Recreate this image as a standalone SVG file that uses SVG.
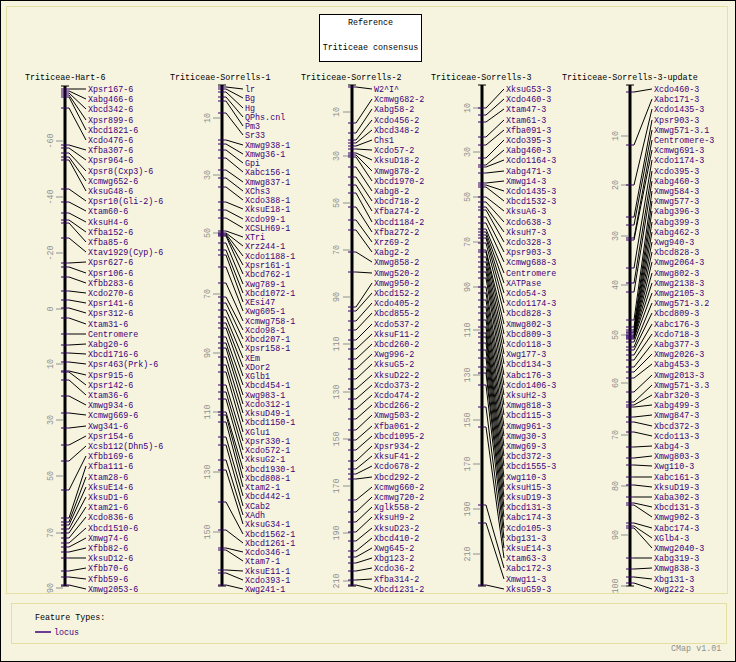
<svg xmlns="http://www.w3.org/2000/svg" width="736" height="662" viewBox="0 0 736 662">
<style>
text{font-family:"Liberation Mono","DejaVu Sans Mono",monospace;font-size:8.4px}
.l{fill:#3c0078}
.h{fill:#000}
.s{fill:#909090;font-size:8px}
.ax{stroke:#000;stroke-width:3}
.cap{stroke:#000;stroke-width:1}
.ft{stroke:#330066;stroke-width:1;fill:none}
.st{stroke:#909090;stroke-width:1;fill:none}
.ld{stroke:#000;stroke-width:1;fill:none}
.fr{fill:none;stroke:#e4dfa2;stroke-width:1}
</style>
<rect x="0" y="0" width="736" height="662" fill="#f6f4df"/>
<rect x="0.5" y="0.5" width="735" height="661" fill="none" stroke="#000"/>
<rect class="fr" x="6.5" y="6.5" width="721" height="587"/>
<g id="title">
<rect x="319.5" y="14.5" width="102" height="47" fill="#fff" stroke="#000"/>
<text class="h" x="370.5" y="25" text-anchor="middle">Reference</text>
<text class="h" x="370.5" y="50" text-anchor="middle">Triticeae consensus</text>
</g>

<g id="connectors">
<path class="ld" d="M69 89L86 89M69 91L86 99M69 93L86 109M69 95L86 120M69 97L86 130M69 108L86 140M69 145L86 150M69 148L86 160M69 153L86 171M69 157L86 181M69 160L86 191M69 189L86 201M69 202L86 211M69 213L86 222M69 220L86 232M69 223L86 242M69 238L86 252M69 263L86 262M69 267L86 273M69 277L86 283M69 291L86 293M69 300L86 303M69 308L86 313M69 318L86 324M69 334L86 334M69 345L86 344M69 353L86 354M69 362L86 364M69 371L86 375M69 372L86 385M69 380L86 395M69 396L86 405M69 413L86 415M69 428L86 426M69 445L86 436M69 461L86 446M69 490L86 456M69 518L86 466M69 522L86 477M69 525L86 487M69 529L86 497M69 533L86 507M69 538L86 517M69 543L86 528M69 547L86 538M69 552L86 548M69 558L86 558M69 571L86 568M69 577L86 579M69 585L86 589"/>
<path class="ld" d="M226 87L243 89M226 89L243 98M226 92L243 108M226 97L243 117M226 101L243 126M226 113L243 135M226 140L243 145M226 144L243 154M226 150L243 163M226 158L243 172M226 170L243 182M226 178L243 191M226 187L243 200M226 202L243 209M226 210L243 219M226 218L243 228M226 231L243 237M226 233L243 246M226 234L243 256M226 235L243 265M226 236L243 274M226 243L243 284M226 250L243 293M226 255L243 302M226 267L243 311M226 283L243 321M226 297L243 330M226 303L243 339M226 310L243 348M226 317L243 358M226 323L243 367M226 328L243 376M226 337L243 385M226 343L243 395M226 348L243 404M226 357L243 413M226 365L243 422M226 372L243 432M226 385L243 441M226 392L243 450M226 399L243 459M226 412L243 469M226 415L243 478M226 422L243 487M226 437L243 496M226 445L243 506M226 460L243 515M226 470L243 524M226 502L243 534M226 530L243 543M226 548L243 552M226 550L243 561M226 570L243 571M226 573L243 580M226 585L243 589"/>
<path class="ld" d="M356 87L372 89M356 123L372 99M356 133L372 109M356 140L372 120M356 143L372 130M356 146L372 140M356 149L372 150M356 153L372 160M356 155L372 171M356 157L372 181M356 167L372 191M356 177L372 201M356 185L372 211M356 193L372 222M356 207L372 232M356 220L372 242M356 230L372 252M356 252L372 262M356 272L372 273M356 307L372 283M356 311L372 293M356 321L372 303M356 330L372 313M356 340L372 324M356 349L372 334M356 359L372 344M356 369L372 354M356 379L372 364M356 389L372 375M356 399L372 385M356 409L372 395M356 419L372 405M356 430L372 415M356 440L372 426M356 450L372 436M356 461L372 446M356 469L372 456M356 474L372 466M356 479L372 477M356 500L372 487M356 512L372 497M356 522L372 507M356 532L372 517M356 541L372 528M356 551L372 538M356 557L372 548M356 563L372 558M356 571L372 568M356 580L372 579M356 585L372 589"/>
<path class="ld" d="M486 108L504 89M486 115L504 99M486 122L504 109M486 137L504 120M486 145L504 130M486 158L504 140M486 165L504 150M486 167L504 160M486 173L504 171M486 183L504 181M486 185L504 191M486 187L504 201M486 197L504 211M486 202L504 222M486 207L504 232M486 210L504 242M486 217L504 252M486 223L504 262M486 229L504 273M486 232L504 283M486 235L504 293M486 238L504 303M486 243L504 313M486 250L504 324M486 252L504 334M486 257L504 344M486 262L504 354M486 267L504 364M486 272L504 375M486 278L504 385M486 287L504 395M486 293L504 405M486 300L504 415M486 307L504 426M486 313L504 436M486 320L504 446M486 327L504 456M486 333L504 466M486 337L504 477M486 343L504 487M486 350L504 497M486 358L504 507M486 367L504 517M486 373L504 528M486 385L504 538M486 407L504 548M486 427L504 558M486 505L504 568M486 523L504 579M486 585L504 589"/>
<path class="ld" d="M634 92L652 89M634 145L652 99M634 185L652 109M634 217L652 120M634 225L652 130M634 238L652 140M634 240L652 150M634 268L652 160M634 283L652 171M634 292L652 181M634 320L652 191M634 327L652 201M634 330L652 211M634 332L652 222M634 333L652 232M634 335L652 242M634 336L652 252M634 337L652 262M634 338L652 273M634 339L652 283M634 342L652 293M634 347L652 303M634 350L652 313M634 355L652 324M634 360L652 334M634 367L652 344M634 372L652 354M634 378L652 364M634 392L652 375M634 402L652 385M634 405L652 395M634 407L652 405M634 417L652 415M634 422L652 426M634 432L652 436M634 447L652 446M634 458L652 456M634 465L652 466M634 477L652 477M634 485L652 487M634 497L652 497M634 503L652 507M634 505L652 517M634 523L652 528M634 526L652 538M634 528L652 548M634 558L652 558M634 569L652 568M634 577L652 579M634 583L652 589"/>
</g>

<g id="map-hart6">
<text class="h" x="25" y="80">Triticeae-Hart-6</text>
<line class="ax" x1="65" y1="86" x2="65" y2="586"/>
<path class="cap" d="M61 86h8M61 586h8"/>
<path class="st" d="M56 141h7M56 197h7M56 253h7M56 309h7M56 364h7M56 420h7M56 476h7M56 533h7M56 588h7"/>
<g class="s" text-anchor="middle">
<text transform="translate(50,141) rotate(-90)" y="3">-60</text>
<text transform="translate(50,197) rotate(-90)" y="3">-40</text>
<text transform="translate(50,253) rotate(-90)" y="3">-20</text>
<text transform="translate(50,309) rotate(-90)" y="3">0</text>
<text transform="translate(50,364) rotate(-90)" y="3">10</text>
<text transform="translate(50,420) rotate(-90)" y="3">30</text>
<text transform="translate(50,476) rotate(-90)" y="3">50</text>
<text transform="translate(50,533) rotate(-90)" y="3">70</text>
<text transform="translate(50,588) rotate(-90)" y="3">90</text>
</g>
<path class="ft" d="M61 89h8M61 91h8M61 93h8M61 95h8M61 97h8M61 108h8M61 145h8M61 148h8M61 153h8M61 157h8M61 160h8M61 189h8M61 202h8M61 213h8M61 220h8M61 223h8M61 238h8M61 263h8M61 267h8M61 277h8M61 291h8M61 300h8M61 308h8M61 318h8M61 334h8M61 345h8M61 353h8M61 362h8M61 371h8M61 372h8M61 380h8M61 396h8M61 413h8M61 428h8M61 445h8M61 461h8M61 490h8M61 518h8M61 522h8M61 525h8M61 529h8M61 533h8M61 538h8M61 543h8M61 547h8M61 552h8M61 558h8M61 571h8M61 577h8M61 585h8"/>
<g class="l">
<text x="88" y="92">Xpsr167-6</text>
<text x="88" y="102.2">Xabg466-6</text>
<text x="88" y="112.4">Xbcd342-6</text>
<text x="88" y="122.6">Xpsr899-6</text>
<text x="88" y="132.8">Xbcd1821-6</text>
<text x="88" y="143">Xcdo476-6</text>
<text x="88" y="153.2">Xfba307-6</text>
<text x="88" y="163.4">Xpsr964-6</text>
<text x="88" y="173.6">Xpsr8(Cxp3)-6</text>
<text x="88" y="183.8">Xcmwg652-6</text>
<text x="88" y="194">XksuG48-6</text>
<text x="88" y="204.2">Xpsr10(Gli-2)-6</text>
<text x="88" y="214.4">Xtam60-6</text>
<text x="88" y="224.6">XksuH4-6</text>
<text x="88" y="234.8">Xfba152-6</text>
<text x="88" y="245">Xfba85-6</text>
<text x="88" y="255.2">Xtav1929(Cyp)-6</text>
<text x="88" y="265.4">Xpsr627-6</text>
<text x="88" y="275.6">Xpsr106-6</text>
<text x="88" y="285.8">Xfbb283-6</text>
<text x="88" y="296">Xcdo270-6</text>
<text x="88" y="306.2">Xpsr141-6</text>
<text x="88" y="316.4">Xpsr312-6</text>
<text x="88" y="326.6">Xtam31-6</text>
<text x="88" y="336.8">Centromere</text>
<text x="88" y="347">Xabg20-6</text>
<text x="88" y="357.2">Xbcd1716-6</text>
<text x="88" y="367.4">Xpsr463(Prk)-6</text>
<text x="88" y="377.6">Xpsr915-6</text>
<text x="88" y="387.8">Xpsr142-6</text>
<text x="88" y="398">Xtam36-6</text>
<text x="88" y="408.2">Xmwg934-6</text>
<text x="88" y="418.4">Xcmwg669-6</text>
<text x="88" y="428.6">Xwg341-6</text>
<text x="88" y="438.8">Xpsr154-6</text>
<text x="88" y="449">Xcsb112(Dhn5)-6</text>
<text x="88" y="459.2">Xfbb169-6</text>
<text x="88" y="469.4">Xfba111-6</text>
<text x="88" y="479.6">Xtam28-6</text>
<text x="88" y="489.8">XksuE14-6</text>
<text x="88" y="500">XksuD1-6</text>
<text x="88" y="510.2">Xtam21-6</text>
<text x="88" y="520.4">Xcdo836-6</text>
<text x="88" y="530.6">Xbcd1510-6</text>
<text x="88" y="540.8">Xmwg74-6</text>
<text x="88" y="551">Xfbb82-6</text>
<text x="88" y="561.2">XksuD12-6</text>
<text x="88" y="571.4">Xfbb70-6</text>
<text x="88" y="581.6">Xfbb59-6</text>
<text x="88" y="591.8">Xmwg2053-6</text>
</g>
</g>

<g id="map-sorrells1">
<text class="h" x="170" y="80">Triticeae-Sorrells-1</text>
<line class="ax" x1="222" y1="85" x2="222" y2="586"/>
<path class="cap" d="M218 85h8M218 586h8"/>
<path class="st" d="M213 118h7M213 175h7M213 233h7M213 294h7M213 353h7M213 412h7M213 472h7M213 532h7"/>
<g class="s" text-anchor="middle">
<text transform="translate(207,118) rotate(-90)" y="3">10</text>
<text transform="translate(207,175) rotate(-90)" y="3">30</text>
<text transform="translate(207,233) rotate(-90)" y="3">50</text>
<text transform="translate(207,294) rotate(-90)" y="3">70</text>
<text transform="translate(207,353) rotate(-90)" y="3">90</text>
<text transform="translate(207,412) rotate(-90)" y="3">110</text>
<text transform="translate(207,472) rotate(-90)" y="3">130</text>
<text transform="translate(207,532) rotate(-90)" y="3">150</text>
</g>
<path class="ft" d="M218 87h8M218 89h8M218 92h8M218 97h8M218 101h8M218 113h8M218 140h8M218 144h8M218 150h8M218 158h8M218 170h8M218 178h8M218 187h8M218 202h8M218 210h8M218 218h8M218 231h8M218 233h8M218 234h8M218 235h8M218 236h8M218 243h8M218 250h8M218 255h8M218 267h8M218 283h8M218 297h8M218 303h8M218 310h8M218 317h8M218 323h8M218 328h8M218 337h8M218 343h8M218 348h8M218 357h8M218 365h8M218 372h8M218 385h8M218 392h8M218 399h8M218 412h8M218 415h8M218 422h8M218 437h8M218 445h8M218 460h8M218 470h8M218 502h8M218 530h8M218 548h8M218 550h8M218 570h8M218 573h8M218 585h8"/>
<g class="l">
<text x="245" y="92">lr</text>
<text x="245" y="101.3">Bg</text>
<text x="245" y="110.5">Hg</text>
<text x="245" y="119.8">QPhs.cnl</text>
<text x="245" y="129">Pm3</text>
<text x="245" y="138.3">Sr33</text>
<text x="245" y="147.6">Xmwg938-1</text>
<text x="245" y="156.8">Xmwg36-1</text>
<text x="245" y="166.1">Gpi</text>
<text x="245" y="175.3">Xabc156-1</text>
<text x="245" y="184.6">Xmwg837-1</text>
<text x="245" y="193.9">XChs3</text>
<text x="245" y="203.1">Xcdo388-1</text>
<text x="245" y="212.4">XksuE18-1</text>
<text x="245" y="221.6">Xcdo99-1</text>
<text x="245" y="230.9">XCSLH69-1</text>
<text x="245" y="240.2">XTri</text>
<text x="245" y="249.4">Xrz244-1</text>
<text x="245" y="258.7">Xcdo1188-1</text>
<text x="245" y="267.9">Xpsr161-1</text>
<text x="245" y="277.2">Xbcd762-1</text>
<text x="245" y="286.5">Xwg789-1</text>
<text x="245" y="295.7">Xbcd1072-1</text>
<text x="245" y="305">XEsi47</text>
<text x="245" y="314.2">Xwg605-1</text>
<text x="245" y="323.5">Xcmwg758-1</text>
<text x="245" y="332.8">Xcdo98-1</text>
<text x="245" y="342">Xbcd207-1</text>
<text x="245" y="351.3">Xpsr158-1</text>
<text x="245" y="360.5">XEm</text>
<text x="245" y="369.8">XDor2</text>
<text x="245" y="379.1">XGlb1</text>
<text x="245" y="388.3">Xbcd454-1</text>
<text x="245" y="397.6">Xwg983-1</text>
<text x="245" y="406.8">Xcdo312-1</text>
<text x="245" y="416.1">XksuD49-1</text>
<text x="245" y="425.4">Xbcd1150-1</text>
<text x="245" y="434.6">XGlu1</text>
<text x="245" y="443.9">Xpsr330-1</text>
<text x="245" y="453.1">Xcdo572-1</text>
<text x="245" y="462.4">XksuG2-1</text>
<text x="245" y="471.7">Xbcd1930-1</text>
<text x="245" y="480.9">Xbcd808-1</text>
<text x="245" y="490.2">Xtam2-1</text>
<text x="245" y="499.4">Xbcd442-1</text>
<text x="245" y="508.7">XCab2</text>
<text x="245" y="518">XAdh</text>
<text x="245" y="527.2">XksuG34-1</text>
<text x="245" y="536.5">Xbcd1562-1</text>
<text x="245" y="545.7">Xbcd1261-1</text>
<text x="245" y="555">Xcdo346-1</text>
<text x="245" y="564.3">Xtam7-1</text>
<text x="245" y="573.5">XksuE11-1</text>
<text x="245" y="582.8">Xcdo393-1</text>
<text x="245" y="592">Xwg241-1</text>
</g>
</g>

<g id="map-sorrells2">
<text class="h" x="301" y="80">Triticeae-Sorrells-2</text>
<line class="ax" x1="352" y1="85" x2="352" y2="586"/>
<path class="cap" d="M348 85h8M348 586h8"/>
<path class="st" d="M343 112h7M343 156h7M343 203h7M343 250h7M343 297h7M343 344h7M343 392h7M343 439h7M343 486h7M343 533h7M343 581h7"/>
<g class="s" text-anchor="middle">
<text transform="translate(336,112) rotate(-90)" y="3">10</text>
<text transform="translate(336,156) rotate(-90)" y="3">30</text>
<text transform="translate(336,203) rotate(-90)" y="3">50</text>
<text transform="translate(336,250) rotate(-90)" y="3">70</text>
<text transform="translate(336,297) rotate(-90)" y="3">90</text>
<text transform="translate(336,344) rotate(-90)" y="3">110</text>
<text transform="translate(336,392) rotate(-90)" y="3">130</text>
<text transform="translate(336,439) rotate(-90)" y="3">150</text>
<text transform="translate(336,486) rotate(-90)" y="3">170</text>
<text transform="translate(336,533) rotate(-90)" y="3">190</text>
<text transform="translate(336,581) rotate(-90)" y="3">210</text>
</g>
<path class="ft" d="M348 87h8M348 123h8M348 133h8M348 140h8M348 143h8M348 146h8M348 149h8M348 153h8M348 155h8M348 157h8M348 167h8M348 177h8M348 185h8M348 193h8M348 207h8M348 220h8M348 230h8M348 252h8M348 272h8M348 307h8M348 311h8M348 321h8M348 330h8M348 340h8M348 349h8M348 359h8M348 369h8M348 379h8M348 389h8M348 399h8M348 409h8M348 419h8M348 430h8M348 440h8M348 450h8M348 461h8M348 469h8M348 474h8M348 479h8M348 500h8M348 512h8M348 522h8M348 532h8M348 541h8M348 551h8M348 557h8M348 563h8M348 571h8M348 580h8M348 585h8"/>
<g class="l">
<text x="374" y="92">W2^I^</text>
<text x="374" y="102.2">Xcmwg682-2</text>
<text x="374" y="112.4">Xabg58-2</text>
<text x="374" y="122.6">Xcdo456-2</text>
<text x="374" y="132.8">Xbcd348-2</text>
<text x="374" y="143">Chs1</text>
<text x="374" y="153.2">Xcdo57-2</text>
<text x="374" y="163.4">XksuD18-2</text>
<text x="374" y="173.6">Xmwg878-2</text>
<text x="374" y="183.8">Xbcd1970-2</text>
<text x="374" y="194">Xabg8-2</text>
<text x="374" y="204.2">Xbcd718-2</text>
<text x="374" y="214.4">Xfba274-2</text>
<text x="374" y="224.6">Xbcd1184-2</text>
<text x="374" y="234.8">Xfba272-2</text>
<text x="374" y="245">Xrz69-2</text>
<text x="374" y="255.2">Xabg2-2</text>
<text x="374" y="265.4">Xmwg858-2</text>
<text x="374" y="275.6">Xmwg520-2</text>
<text x="374" y="285.8">Xmwg950-2</text>
<text x="374" y="296">Xbcd152-2</text>
<text x="374" y="306.2">Xcdo405-2</text>
<text x="374" y="316.4">Xbcd855-2</text>
<text x="374" y="326.6">Xcdo537-2</text>
<text x="374" y="336.8">XksuF11-2</text>
<text x="374" y="347">Xbcd260-2</text>
<text x="374" y="357.2">Xwg996-2</text>
<text x="374" y="367.4">XksuG5-2</text>
<text x="374" y="377.6">XksuD22-2</text>
<text x="374" y="387.8">Xcdo373-2</text>
<text x="374" y="398">Xcdo474-2</text>
<text x="374" y="408.2">Xbcd266-2</text>
<text x="374" y="418.4">Xmwg503-2</text>
<text x="374" y="428.6">Xfba061-2</text>
<text x="374" y="438.8">Xbcd1095-2</text>
<text x="374" y="449">Xpsr934-2</text>
<text x="374" y="459.2">XksuF41-2</text>
<text x="374" y="469.4">Xcdo678-2</text>
<text x="374" y="479.6">Xbcd292-2</text>
<text x="374" y="489.8">Xcmwg660-2</text>
<text x="374" y="500">Xcmwg720-2</text>
<text x="374" y="510.2">Xglk558-2</text>
<text x="374" y="520.4">XksuH9-2</text>
<text x="374" y="530.6">XksuD23-2</text>
<text x="374" y="540.8">Xbcd410-2</text>
<text x="374" y="551">Xwg645-2</text>
<text x="374" y="561.2">Xbg123-2</text>
<text x="374" y="571.4">Xcdo36-2</text>
<text x="374" y="581.6">Xfba314-2</text>
<text x="374" y="591.8">Xbcd1231-2</text>
</g>
</g>

<g id="map-sorrells3">
<text class="h" x="431" y="80">Triticeae-Sorrells-3</text>
<line class="ax" x1="482" y1="85" x2="482" y2="586"/>
<path class="cap" d="M478 85h8M478 586h8"/>
<path class="st" d="M473 108h7M473 152h7M473 197h7M473 242h7M473 287h7M473 330h7M473 375h7M473 420h7M473 464h7M473 509h7M473 554h7"/>
<g class="s" text-anchor="middle">
<text transform="translate(467,108) rotate(-90)" y="3">10</text>
<text transform="translate(467,152) rotate(-90)" y="3">30</text>
<text transform="translate(467,197) rotate(-90)" y="3">50</text>
<text transform="translate(467,242) rotate(-90)" y="3">70</text>
<text transform="translate(467,287) rotate(-90)" y="3">90</text>
<text transform="translate(467,330) rotate(-90)" y="3">110</text>
<text transform="translate(467,375) rotate(-90)" y="3">130</text>
<text transform="translate(467,420) rotate(-90)" y="3">150</text>
<text transform="translate(467,464) rotate(-90)" y="3">170</text>
<text transform="translate(467,509) rotate(-90)" y="3">190</text>
<text transform="translate(467,554) rotate(-90)" y="3">210</text>
</g>
<path class="ft" d="M478 108h8M478 115h8M478 122h8M478 137h8M478 145h8M478 158h8M478 165h8M478 167h8M478 173h8M478 183h8M478 185h8M478 187h8M478 197h8M478 202h8M478 207h8M478 210h8M478 217h8M478 223h8M478 229h8M478 232h8M478 235h8M478 238h8M478 243h8M478 250h8M478 252h8M478 257h8M478 262h8M478 267h8M478 272h8M478 278h8M478 287h8M478 293h8M478 300h8M478 307h8M478 313h8M478 320h8M478 327h8M478 333h8M478 337h8M478 343h8M478 350h8M478 358h8M478 367h8M478 373h8M478 385h8M478 407h8M478 427h8M478 505h8M478 523h8M478 585h8"/>
<g class="l">
<text x="506" y="92">XksuG53-3</text>
<text x="506" y="102.2">Xcdo460-3</text>
<text x="506" y="112.4">Xtam47-3</text>
<text x="506" y="122.6">Xtam61-3</text>
<text x="506" y="132.8">Xfba091-3</text>
<text x="506" y="143">Xcdo395-3</text>
<text x="506" y="153.2">Xabg460-3</text>
<text x="506" y="163.4">Xcdo1164-3</text>
<text x="506" y="173.6">Xabg471-3</text>
<text x="506" y="183.8">Xmwg14-3</text>
<text x="506" y="194">Xcdo1435-3</text>
<text x="506" y="204.2">Xbcd1532-3</text>
<text x="506" y="214.4">XksuA6-3</text>
<text x="506" y="224.6">Xcdo638-3</text>
<text x="506" y="234.8">XksuH7-3</text>
<text x="506" y="245">Xcdo328-3</text>
<text x="506" y="255.2">Xpsr903-3</text>
<text x="506" y="265.4">Xcmwg688-3</text>
<text x="506" y="275.6">Centromere</text>
<text x="506" y="285.8">XATPase</text>
<text x="506" y="296">Xcdo54-3</text>
<text x="506" y="306.2">Xcdo1174-3</text>
<text x="506" y="316.4">Xbcd828-3</text>
<text x="506" y="326.6">Xmwg802-3</text>
<text x="506" y="336.8">Xbcd809-3</text>
<text x="506" y="347">Xcdo118-3</text>
<text x="506" y="357.2">Xwg177-3</text>
<text x="506" y="367.4">Xbcd134-3</text>
<text x="506" y="377.6">Xabc176-3</text>
<text x="506" y="387.8">Xcdo1406-3</text>
<text x="506" y="398">XksuH2-3</text>
<text x="506" y="408.2">Xmwg818-3</text>
<text x="506" y="418.4">Xbcd115-3</text>
<text x="506" y="428.6">Xmwg961-3</text>
<text x="506" y="438.8">Xmwg30-3</text>
<text x="506" y="449">Xmwg69-3</text>
<text x="506" y="459.2">Xbcd372-3</text>
<text x="506" y="469.4">Xbcd1555-3</text>
<text x="506" y="479.6">Xwg110-3</text>
<text x="506" y="489.8">XksuH15-3</text>
<text x="506" y="500">XksuD19-3</text>
<text x="506" y="510.2">Xbcd131-3</text>
<text x="506" y="520.4">Xabc174-3</text>
<text x="506" y="530.6">Xcdo105-3</text>
<text x="506" y="540.8">Xbg131-3</text>
<text x="506" y="551">XksuE14-3</text>
<text x="506" y="561.2">Xtam63-3</text>
<text x="506" y="571.4">Xabc172-3</text>
<text x="506" y="581.6">Xmwg11-3</text>
<text x="506" y="591.8">XksuG59-3</text>
</g>
</g>

<g id="map-sorrells3-update">
<text class="h" x="562" y="80">Triticeae-Sorrells-3-update</text>
<line class="ax" x1="630" y1="85" x2="630" y2="586"/>
<path class="cap" d="M626 85h8M626 586h8"/>
<path class="st" d="M621 136h7M621 185h7M621 236h7M621 285h7M621 335h7M621 383h7M621 435h7M621 486h7M621 535h7M621 586h7"/>
<g class="s" text-anchor="middle">
<text transform="translate(615,136) rotate(-90)" y="3">10</text>
<text transform="translate(615,185) rotate(-90)" y="3">20</text>
<text transform="translate(615,236) rotate(-90)" y="3">30</text>
<text transform="translate(615,285) rotate(-90)" y="3">40</text>
<text transform="translate(615,335) rotate(-90)" y="3">50</text>
<text transform="translate(615,383) rotate(-90)" y="3">60</text>
<text transform="translate(615,435) rotate(-90)" y="3">70</text>
<text transform="translate(615,486) rotate(-90)" y="3">80</text>
<text transform="translate(615,535) rotate(-90)" y="3">90</text>
<text transform="translate(615,586) rotate(-90)" y="3">100</text>
</g>
<path class="ft" d="M626 92h8M626 145h8M626 185h8M626 217h8M626 225h8M626 238h8M626 240h8M626 268h8M626 283h8M626 292h8M626 320h8M626 327h8M626 330h8M626 332h8M626 333h8M626 335h8M626 336h8M626 337h8M626 338h8M626 339h8M626 342h8M626 347h8M626 350h8M626 355h8M626 360h8M626 367h8M626 372h8M626 378h8M626 392h8M626 402h8M626 405h8M626 407h8M626 417h8M626 422h8M626 432h8M626 447h8M626 458h8M626 465h8M626 477h8M626 485h8M626 497h8M626 503h8M626 505h8M626 523h8M626 526h8M626 528h8M626 558h8M626 569h8M626 577h8M626 583h8"/>
<g class="l">
<text x="654" y="92">Xcdo460-3</text>
<text x="654" y="102.2">Xabc171-3</text>
<text x="654" y="112.4">Xcdo1435-3</text>
<text x="654" y="122.6">Xpsr903-3</text>
<text x="654" y="132.8">Xmwg571-3.1</text>
<text x="654" y="143">Centromere-3</text>
<text x="654" y="153.2">Xcmwg691-3</text>
<text x="654" y="163.4">Xcdo1174-3</text>
<text x="654" y="173.6">Xcdo395-3</text>
<text x="654" y="183.8">Xabg460-3</text>
<text x="654" y="194">Xmwg584-3</text>
<text x="654" y="204.2">Xmwg577-3</text>
<text x="654" y="214.4">Xabg396-3</text>
<text x="654" y="224.6">Xabg399-3</text>
<text x="654" y="234.8">Xabg462-3</text>
<text x="654" y="245">Xwg940-3</text>
<text x="654" y="255.2">Xbcd828-3</text>
<text x="654" y="265.4">Xmwg2064-3</text>
<text x="654" y="275.6">Xmwg802-3</text>
<text x="654" y="285.8">Xmwg2138-3</text>
<text x="654" y="296">Xmwg2105-3</text>
<text x="654" y="306.2">Xmwg571-3.2</text>
<text x="654" y="316.4">Xbcd809-3</text>
<text x="654" y="326.6">Xabc176-3</text>
<text x="654" y="336.8">Xcdo718-3</text>
<text x="654" y="347">Xabg377-3</text>
<text x="654" y="357.2">Xmwg2026-3</text>
<text x="654" y="367.4">Xabg453-3</text>
<text x="654" y="377.6">Xmwg2013-3</text>
<text x="654" y="387.8">Xmwg571-3.3</text>
<text x="654" y="398">Xabr320-3</text>
<text x="654" y="408.2">Xabg499-3</text>
<text x="654" y="418.4">Xmwg847-3</text>
<text x="654" y="428.6">Xbcd372-3</text>
<text x="654" y="438.8">Xcdo113-3</text>
<text x="654" y="449">Xabg4-3</text>
<text x="654" y="459.2">Xmwg803-3</text>
<text x="654" y="469.4">Xwg110-3</text>
<text x="654" y="479.6">Xabc161-3</text>
<text x="654" y="489.8">XksuD19-3</text>
<text x="654" y="500">Xaba302-3</text>
<text x="654" y="510.2">Xbcd131-3</text>
<text x="654" y="520.4">Xmwg902-3</text>
<text x="654" y="530.6">Xabc174-3</text>
<text x="654" y="540.8">XGlb4-3</text>
<text x="654" y="551">Xmwg2040-3</text>
<text x="654" y="561.2">Xabg319-3</text>
<text x="654" y="571.4">Xmwg838-3</text>
<text x="654" y="581.6">Xbg131-3</text>
<text x="654" y="591.8">Xwg222-3</text>
</g>
</g>

<g id="legend">
<rect class="fr" x="11.5" y="603.5" width="715" height="40"/>
<text class="h" x="35" y="620">Feature Types:</text>
<line x1="35" y1="632" x2="51" y2="632" stroke="#3c0078" stroke-width="1.5"/>
<text class="l" x="54" y="635">locus</text>
</g>
<text x="671" y="651" fill="#909090" font-size="8px">CMap v1.01</text>
</svg>
